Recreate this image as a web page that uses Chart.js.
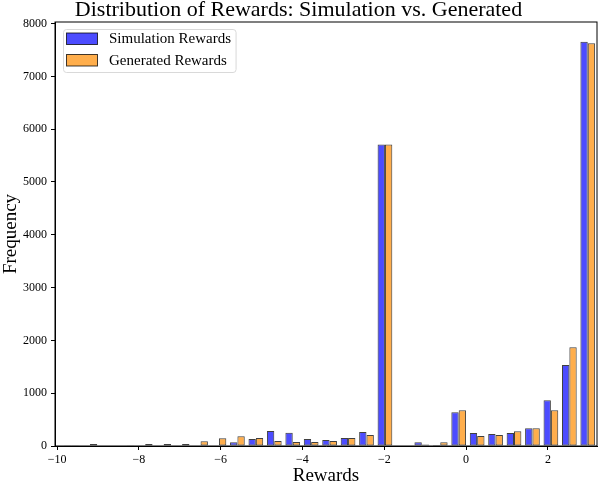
<!DOCTYPE html>
<html>
<head>
  <meta charset="utf-8">
  <title>Distribution of Rewards</title>
  <script src="https://cdn.jsdelivr.net/npm/chart.js"></script>
  <style>
    html, body { margin: 0; padding: 0; background: #fff; }
    #wrap { width: 598px; height: 484px; }
  </style>
</head>
<body>
  <div id="wrap"><canvas id="rewardsChart"></canvas></div>
  <script>
    // histogram bin centres (shared by both series)
    const binCenters = [-9.648, -9.197, -8.746, -8.296, -7.845, -7.394, -6.943, -6.492, -6.042, -5.591,
      -5.140, -4.689, -4.238, -3.788, -3.337, -2.886, -2.435, -1.984, -1.534, -1.083,
      -0.632, -0.181, 0.270, 0.720, 1.171, 1.622, 2.073, 2.524, 2.974];

    // counts
    const simulationCounts = [15, 10, 10, 0, 0, 0, 0, 10, 10, 70,
      133, 284, 252, 133, 114, 152, 265, 5710, 0, 70,
      20, 638, 246, 227, 246, 335, 865, 1534, 7657];
    const generatedCounts = [15, 38, 10, 15, 38, 38, 38, 88, 145, 183,
      150, 95, 76, 76, 95, 152, 208, 5710, 0, 30,
      70, 676, 189, 208, 278, 335, 676, 1869, 7627];

    const xTicks = [-10, -8, -6, -4, -2, 0, 2];
    const yTicks = [0, 1000, 2000, 3000, 4000, 5000, 6000, 7000, 8000];

    const serif = "'Liberation Serif', 'DejaVu Serif', serif";
    const minus = v => String(v).replace('-', '\u2212');

    // frame round the plot
    const framePlugin = {
      id: 'frame',
      afterDatasetsDraw(chart) {
        const a = chart.chartArea, ctx = chart.ctx;
        ctx.save();
        ctx.strokeStyle = '#000';
        ctx.lineWidth = 1;
        ctx.strokeRect(a.left, a.top, a.right - a.left, a.bottom - a.top);
        ctx.restore();
      }
    };

    // matplotlib-like legend in the upper left corner of the plot
    const cornerLegend = {
      id: 'cornerLegend',
      afterDatasetsDraw(chart) {
        const a = chart.chartArea, ctx = chart.ctx;
        const x0 = a.left + 8, y0 = a.top + 7;
        const rowH = 21.5;
        ctx.save();
        ctx.font = "15px " + serif;
        let textW = 0;
        chart.data.datasets.forEach(ds => { textW = Math.max(textW, ctx.measureText(ds.label).width); });
        const w = 3.5 + 31 + 11 + textW + 5, h = rowH * chart.data.datasets.length;
        ctx.fillStyle = 'rgba(255,255,255,0.8)';
        ctx.strokeStyle = '#d9d9d9';
        ctx.lineWidth = 1;
        ctx.beginPath();
        ctx.roundRect(x0 + 0.5, y0 + 0.5, w, h, 3);
        ctx.fill();
        ctx.stroke();
        chart.data.datasets.forEach((ds, i) => {
          const by = y0 + 4 + i * rowH;
          ctx.fillStyle = ds.backgroundColor;
          ctx.fillRect(x0 + 3.5, by, 31, 11.5);
          ctx.strokeStyle = ds.borderColor;
          ctx.strokeRect(x0 + 3.5, by, 31, 11.5);
          ctx.fillStyle = '#000';
          ctx.textBaseline = 'middle';
          ctx.fillText(ds.label, x0 + 46, by + 6.5);
        });
        ctx.restore();
      }
    };

    new Chart(document.getElementById('rewardsChart'), {
      type: 'bar',
      data: {
        datasets: [{
          label: 'Simulation Rewards',
          data: binCenters.map((x, i) => ({ x: x, y: simulationCounts[i] })),
          backgroundColor: 'rgba(0, 0, 255, 0.7)',
          borderColor: 'rgba(0, 0, 0, 0.75)',
          borderWidth: 1,
          borderSkipped: false
        }, {
          label: 'Generated Rewards',
          data: binCenters.map((x, i) => ({ x: x, y: generatedCounts[i] })),
          backgroundColor: 'rgba(255, 140, 0, 0.7)',
          borderColor: 'rgba(0, 0, 0, 0.75)',
          borderWidth: 1,
          borderSkipped: false
        }]
      },
      options: {
        responsive: true,
        maintainAspectRatio: false,
        animation: false,
        datasets: { bar: { barPercentage: 1.0, categoryPercentage: 0.8 } },
        layout: { padding: { top: 0, right: 1, bottom: 0, left: 0 } },
        plugins: {
          title: {
            display: true,
            text: 'Distribution of Rewards: Simulation vs. Generated',
            color: '#000',
            font: { family: serif, size: 22, weight: 'normal', lineHeight: 1.0 },
            padding: { top: -1, bottom: 1 }
          },
          legend: { display: false },
          tooltip: { enabled: false }
        },
        scales: {
          x: {
            type: 'linear',
            min: -10.05,
            max: 3.2,
            offset: false,
            afterFit: s => { s.height = 38; },
            afterBuildTicks: s => { s.ticks = xTicks.map(v => ({ value: v })); },
            ticks: {
              color: '#000',
              font: { family: serif, size: 12 },
              padding: 3,
              maxRotation: 0,
              autoSkip: false,
              callback: v => minus(v)
            },
            grid: { offset: false, drawOnChartArea: false, drawTicks: true, tickLength: 4, color: '#000' },
            border: { display: true, color: '#000' },
            title: {
              display: true,
              text: 'Rewards',
              color: '#000',
              font: { family: serif, size: 19, lineHeight: 0.8 },
              padding: { top: 0, bottom: 0 }
            }
          },
          y: {
            min: 0,
            max: 8030,
            afterFit: s => { s.width = 55; },
            afterBuildTicks: s => { s.ticks = yTicks.map(v => ({ value: v })); },
            ticks: {
              color: '#000',
              font: { family: serif, size: 12 },
              padding: 4,
              autoSkip: false,
              callback: v => String(v)
            },
            grid: { drawOnChartArea: false, drawTicks: true, tickLength: 4, color: '#000' },
            border: { display: true, color: '#000' },
            title: {
              display: true,
              text: 'Frequency',
              color: '#000',
              font: { family: serif, size: 19 },
              padding: { top: 0, bottom: 0 }
            }
          }
        }
      },
      plugins: [framePlugin, cornerLegend]
    });
  </script>
</body>
</html>
